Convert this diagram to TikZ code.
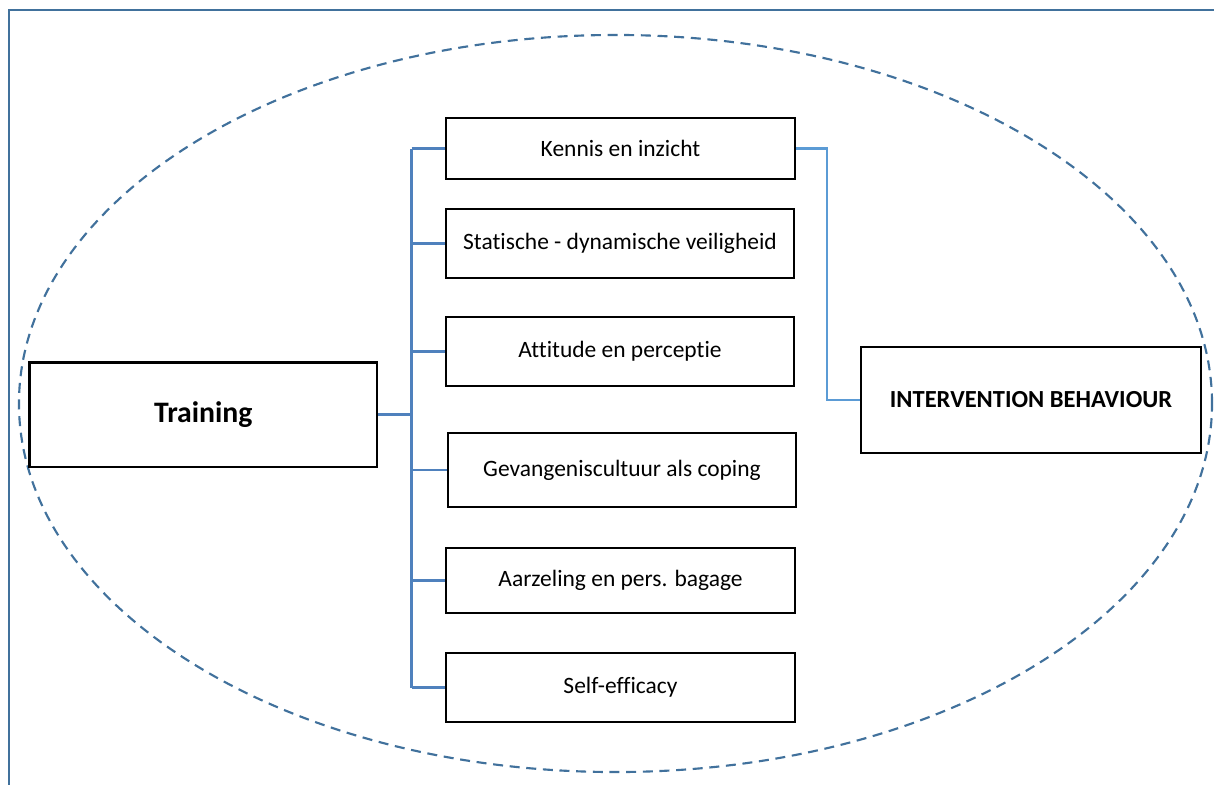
\documentclass[tikz,border=0pt]{standalone}
\usepackage{fontspec}
\setmainfont{Carlito}[Ligatures=NoCommon]
\definecolor{framecol}{HTML}{41719C}
\definecolor{buscol}{HTML}{4F81BD}
\definecolor{linkcol}{HTML}{5B9BD5}
\begin{document}
\begin{tikzpicture}[x=0.75pt,y=-0.75pt,
  box/.style={draw=black,line width=1.6pt,fill=white,inner sep=0pt,
    align=center,font=\fontsize{17.6}{21}\selectfont},
  bus/.style={draw=buscol,line width=2pt},
  link/.style={draw=linkcol,line width=1.8pt},
  outline/.style={draw=framecol,line width=2.1pt},
  zone/.style={draw=framecol,line width=1.6pt,dash pattern=on 7.5pt off 5pt}]
\useasboundingbox (0,0) rectangle (1214,785);

% page frame
\draw[outline] (1216,10) -- (9,10) -- (9,787);

% dashed boundary
\draw[zone] (615.5,403.5) ellipse [x radius=447.4pt, y radius=276.4pt];

% nodes
\node[box,minimum width=260.6pt,minimum height=78.4pt,
  font=\fontsize{22.3}{26}\selectfont\bfseries] (train) at (203.25,414.75) {Training};
\node[box,minimum width=261.8pt,minimum height=45.8pt] (k1) at (620.5,148.5) {Kennis en inzicht};
\node[box,minimum width=261pt,minimum height=51.8pt] (k2) at (620,243.5) {Statische - dynamische veiligheid};
\node[box,minimum width=261pt,minimum height=51.8pt] (k3) at (620,351.5) {Attitude en perceptie};
\node[box,minimum width=261pt,minimum height=55.5pt] (k4) at (622,470) {Gevangeniscultuur als coping};
\node[box,minimum width=261.8pt,minimum height=48.8pt] (k5) at (620.5,580.5) {Aarzeling en pers. bagage};
\node[box,minimum width=261.8pt,minimum height=51.8pt] (k6) at (620.5,687.5) {Self-efficacy};
\node[box,minimum width=255pt,minimum height=79.5pt,
  font=\fontsize{18.4}{22}\selectfont\bfseries] (ib) at (1031,400) {INTERVENTION BEHAVIOUR};

% connector anchors
\coordinate (bus) at (411.5,0);
\coordinate (rj) at (827,0);

% training to the six factors
\draw[bus] (train.east) -- (train.east -| bus);
\draw[bus] (bus |- k1.west) -- (bus |- k6.west);
\foreach \n in {k1,k2,k3,k4,k5,k6}
  \draw[bus] (bus |- \n.west) -- (\n.west);

% knowledge to intervention behaviour
\draw[link] (k1.east) -- (k1.east -| rj) |- (ib.west);
\end{tikzpicture}
\end{document}
